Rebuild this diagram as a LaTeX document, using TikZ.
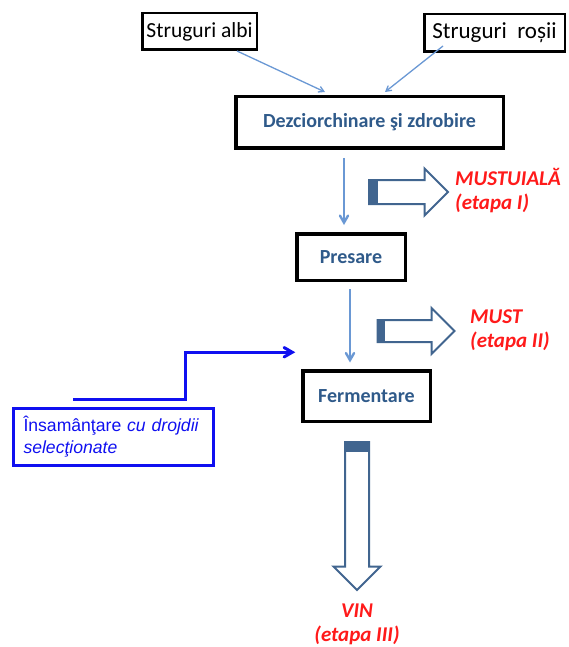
\documentclass[tikz,border=0pt]{standalone}
\usepackage{fontspec}
\setmainfont{Carlito}
\newfontfamily\arialfont{Liberation Sans}
\usetikzlibrary{arrows,shapes.arrows,calc}

\definecolor{boxtext}{HTML}{2F5A8A}
\definecolor{flowblue}{HTML}{6A98D4}
\definecolor{steel}{HTML}{41658F}
\definecolor{seedblue}{HTML}{1010F0}
\definecolor{outred}{HTML}{FF1A1A}

\tikzset{
  grape/.style={draw, line width=2.5pt, inner sep=0pt},
  proc/.style={draw, line width=3.5pt, inner sep=0pt, text=boxtext,
               font=\bfseries\fontsize{20}{24}\selectfont},
  flow/.style={draw=flowblue, line width=2.4pt},
  feed/.style={draw=flowblue, line width=1.3pt},
  hollow/.style={single arrow, draw=steel, line width=2pt, inner xsep=0pt,
                 single arrow head extend=11.5pt},
  outlbl/.style={text=outred, inner sep=0pt,
                 font=\bfseries\itshape\fontsize{21}{24}\selectfont}
}

\begin{document}
\begin{tikzpicture}[>=angle 60, x=1pt, y=-1pt]
  \useasboundingbox (0,0) rectangle (568,647);

  \node[grape, minimum width=114.5pt, minimum height=36.5pt,
        font=\fontsize{21.5}{24}\selectfont] (albi) at (199.5,31.5) {Struguri albi};
  \node[grape, minimum width=140.5pt, minimum height=37.5pt,
        font=\fontsize{23}{26}\selectfont] (rosii) at (494.5,33) {Struguri\ \ roșii};
  \node[proc, minimum width=267.5pt, minimum height=51.5pt] (dez) at (369.5,122.5) {Dezciorchinare şi zdrobire};
  \node[proc, minimum width=108.5pt, minimum height=46.5pt] (pres) at (351,257) {Presare};
  \node[proc, minimum width=127.5pt, minimum height=50.5pt] (ferm) at (366.5,396) {Fermentare};
  \node[draw=seedblue, line width=3pt, text=seedblue, text width=180pt, align=left,
        inner xsep=10pt, minimum height=57pt, font=\arialfont\fontsize{17.6}{22}\selectfont]
        (seed) at (113.5,437) {Însamânţare \textit{cu drojdii}\\\textit{selecţionate}};

  \node[hollow, minimum height=79pt, inner ysep=11pt] (ar1) at (402.5,192) {};
  \node[hollow, minimum height=77pt, inner ysep=10pt, single arrow head extend=12pt] (ar2) at (410.5,331) {};
  \node[hollow, minimum height=148pt, inner xsep=11pt, inner ysep=0pt, shape border rotate=270] (ar3) at (357,510) {};
  \fill[steel] (ar1.before tail) rectangle ($(ar1.after tail)+(10,0)$);
  \fill[steel] (ar2.before tail) rectangle ($(ar2.after tail)+(8,0)$);
  \fill[steel] (ar3.before tail) rectangle ($(ar3.after tail)+(0,11)$);

  \node[outlbl, align=left, anchor=west] (mustuiala) at (455,191) {MUSTUIALĂ\\(etapa I)};
  \node[outlbl, align=left, anchor=west] (must) at (470,330) {MUST\\(etapa II)};
  \node[outlbl, align=center, anchor=north] (vin) at (357,604) {VIN\\(etapa III)};

  \draw[feed]
      ([xshift=37.5pt]albi.south) edge[->] ([xshift=-44.5pt,yshift=3pt]dez.north)
      ([xshift=-51.5pt,yshift=7pt]rosii.south) edge[->] ([xshift=15.5pt,yshift=3pt]dez.north);
  \draw[flow]
      ([xshift=-25.5pt,yshift=-8pt]dez.south) edge[->] ([xshift=-7pt,yshift=7pt]pres.north)
      ([xshift=-1pt,yshift=-7pt]pres.south) edge[->] ([xshift=-16.5pt,yshift=6.5pt]ferm.north);
  \draw[->, draw=seedblue, line width=3pt]
      ([xshift=-40.5pt,yshift=7.5pt]seed.north) -- ++(112,0) |- ([xshift=-5.75pt,yshift=16.75pt]ferm.north west);
\end{tikzpicture}
\end{document}
